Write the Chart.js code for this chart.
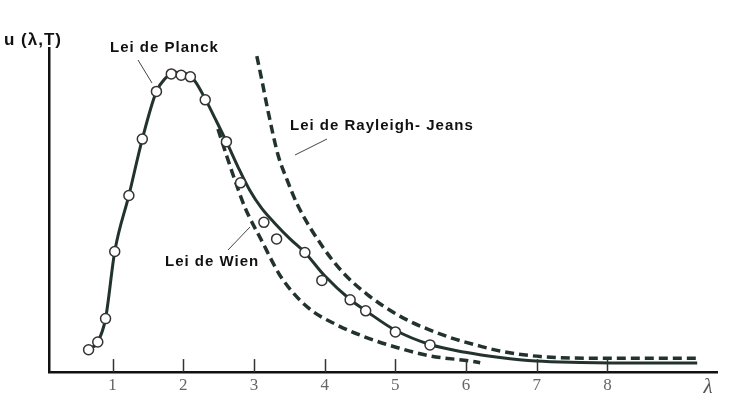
<!DOCTYPE html>
<html>
<head>
<meta charset="utf-8">
<script src="https://cdn.jsdelivr.net/npm/chart.js@4"></script>
<style>
  html, body { margin: 0; padding: 0; background: #fff; }
  #wrap { width: 741px; height: 418px; }
</style>
</head>
<body>
<div id="wrap"><canvas id="chart" width="741" height="418"></canvas></div>
<script>
// x ticks shown on the lambda axis
const xTicks = [1, 2, 3, 4, 5, 6, 7, 8];

// measured points (circles)
const measuredX = [0.66, 0.79, 0.90, 1.03, 1.23, 1.42, 1.62, 1.83, 1.97, 2.10, 2.31, 2.61, 2.81, 3.14, 3.32, 3.72, 3.96, 4.36, 4.58, 5.00, 5.49];
const measuredY = [6.9, 9.3, 16.5, 37.2, 54.5, 71.9, 86.6, 92.0, 91.6, 91.1, 84.0, 71.1, 58.4, 46.2, 41.1, 36.9, 28.3, 22.3, 18.9, 12.4, 8.4];

// Planck curve (solid)
const planckX = [0.66, 0.79, 0.90, 1.03, 1.23, 1.42, 1.62, 1.74, 1.88, 2.02, 2.16, 2.31, 2.46, 2.61, 2.77, 2.94, 3.11, 3.30, 3.51, 3.72, 4.00, 4.36, 4.59, 5.00, 5.49, 5.99, 6.48, 6.99, 7.62, 8.47, 9.27];
const planckY = [6.9, 9.3, 16.5, 37.2, 54.5, 71.9, 86.6, 90.5, 92.5, 92.2, 89.9, 84.3, 77.8, 71.1, 63.5, 56.1, 50.5, 45.8, 41.1, 36.9, 29.7, 22.4, 18.8, 12.9, 8.5, 6.1, 4.5, 3.4, 3.0, 2.8, 2.8];

// Wien curve (dashed, lower)
const wienX = [2.49, 2.62, 2.73, 2.87, 3.11, 3.39, 3.77, 4.15, 4.55, 5.02, 5.49, 6.10, 6.20];
const wienY = [75.0, 66.3, 59.2, 50.9, 40.5, 29.1, 19.8, 14.8, 11.0, 7.6, 5.0, 3.3, 2.9];

// Rayleigh-Jeans curve (dashed, upper)
const rjX = [3.04, 3.11, 3.20, 3.34, 3.47, 3.62, 3.98, 4.26, 4.60, 5.07, 5.73, 6.20, 6.48, 7.05, 7.90, 9.27];
const rjY = [97.5, 90.2, 80.4, 67.0, 59.2, 51.4, 38.4, 30.7, 24.0, 17.2, 11.0, 8.0, 6.5, 4.8, 4.3, 4.3];

const pts = (xs, ys) => xs.map((x, i) => ({ x: x, y: ys[i] }));

const ink = '#22332f';

// tick marks pointing up + texts
const decor = {
  id: 'decor',
  afterDraw(chart) {
    const ctx = chart.ctx;
    const xs = chart.scales.x;
    const base = chart.chartArea.bottom;
    ctx.save();
    ctx.strokeStyle = '#333';
    ctx.lineWidth = 1.5;
    xTicks.forEach(v => {
      const px = Math.round(xs.getPixelForValue(v)) + 0.5;
      ctx.beginPath();
      ctx.moveTo(px, base);
      ctx.lineTo(px, base - 13);
      ctx.stroke();
    });

    // labels
    ctx.fillStyle = '#111';
    ctx.textBaseline = 'middle';
    ctx.textAlign = 'left';
    ctx.font = 'bold 15px "Liberation Sans", Arial, sans-serif';
    ctx.letterSpacing = '1px';
    ctx.fillText('Lei de Planck', 110, 48);
    ctx.fillText('Lei de Rayleigh- Jeans', 290, 126);
    ctx.fillText('Lei de Wien', 165, 262);

    ctx.font = 'bold 17px "Liberation Sans", Arial, sans-serif';
    ctx.fillText('u (λ,T)', 4, 40);

    ctx.letterSpacing = '0px';
    ctx.fillStyle = '#555';
    ctx.font = 'italic 21px "Liberation Serif", serif';
    ctx.textAlign = 'center';
    ctx.fillText('λ', 708, 387);

    // leader lines
    ctx.strokeStyle = '#444';
    ctx.lineWidth = 1;
    const lead = (a, b, c, d) => { ctx.beginPath(); ctx.moveTo(a, b); ctx.lineTo(c, d); ctx.stroke(); };
    lead(138, 60, 152, 83);
    lead(327, 139, 295, 155);
    lead(250, 227, 228, 250);
    ctx.restore();
  }
};

new Chart(document.getElementById('chart'), {
  type: 'line',
  data: {
    datasets: [
      {
        label: 'medidas',
        data: pts(measuredX, measuredY),
        showLine: false,
        pointRadius: 5,
        pointBackgroundColor: '#fff',
        pointBorderColor: '#333',
        pointBorderWidth: 1.5
      },
      {
        label: 'Planck',
        data: pts(planckX, planckY),
        borderColor: ink,
        borderWidth: 3,
        pointRadius: 0,
        cubicInterpolationMode: 'monotone'
      },
      {
        label: 'Wien',
        data: pts(wienX, wienY),
        borderColor: ink,
        borderWidth: 3.5,
        borderDash: [9, 5],
        pointRadius: 0,
        cubicInterpolationMode: 'monotone'
      },
      {
        label: 'Rayleigh-Jeans',
        data: pts(rjX, rjY),
        borderColor: ink,
        borderWidth: 3.5,
        borderDash: [9, 5],
        pointRadius: 0,
        cubicInterpolationMode: 'monotone'
      }
    ]
  },
  options: {
    responsive: false,
    animation: false,
    layout: { padding: { left: 49, top: 48, right: 24, bottom: 19.5 } },
    plugins: {
      legend: { display: false },
      tooltip: { enabled: false }
    },
    scales: {
      x: {
        type: 'linear',
        min: 0.1,
        max: 9.55,
        afterBuildTicks: (s) => { s.ticks = xTicks.map(v => ({ value: v })); },
        ticks: {
          color: '#666',
          padding: 3,
          maxRotation: 0,
          autoSkip: false,
          font: { family: '"Liberation Serif", serif', size: 17 }
        },
        grid: { display: false, drawTicks: false },
        border: { display: true, color: '#111', width: 2.5 }
      },
      y: {
        type: 'linear',
        min: 0,
        max: 100,
        ticks: { display: false },
        grid: { display: false, drawTicks: false },
        border: { display: true, color: '#111', width: 2.5 }
      }
    }
  },
  plugins: [decor]
});
</script>
</body>
</html>
